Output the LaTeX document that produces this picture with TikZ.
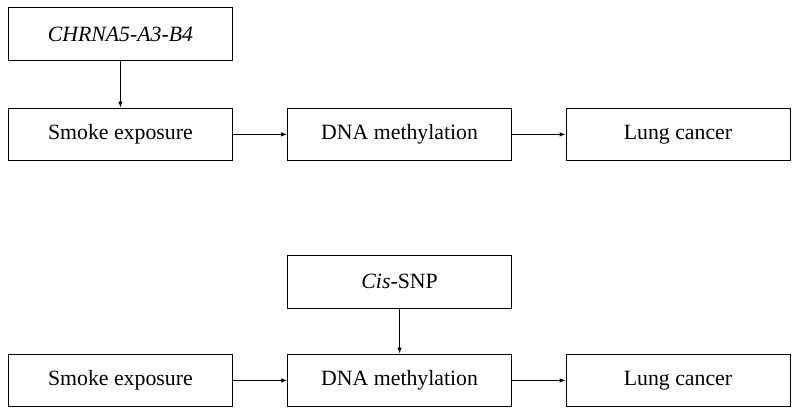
\documentclass[tikz,border=0pt]{standalone}
\usepackage{fontspec}
\setmainfont{Liberation Serif}
\usetikzlibrary{arrows.meta}
\tikzset{
    box/.style={draw, line width=0.6pt, minimum width=5.6cm, minimum height=1.32cm,
        inner sep=0pt, font=\fontsize{15.5}{18}\selectfont},
    link/.style={-{Latex[length=1.5mm, width=1.1mm]}, line width=0.6pt}
}

\begin{document}
\begin{tikzpicture}
    \useasboundingbox (0,0) rectangle (20,-10.425);

    % Upper panel
    \node[box] (gene) at (3.01,-0.85) {\textit{CHRNA5-A3-B4}};
    \node[box] (smokeA) at (3.01,-3.36) {Smoke exposure};
    \node[box] (methA) at (9.99,-3.36) {DNA methylation};
    \node[box] (cancerA) at (16.95,-3.36) {Lung cancer};

    \draw[link] (gene) -- (smokeA);
    \draw[link] (smokeA) -- (methA);
    \draw[link] (methA) -- (cancerA);

    % Lower panel
    \node[box] (snp) at (9.99,-7.04) {\textit{Cis}-SNP};
    \node[box] (smokeB) at (3.01,-9.51) {Smoke exposure};
    \node[box] (methB) at (9.99,-9.51) {DNA methylation};
    \node[box] (cancerB) at (16.95,-9.51) {Lung cancer};

    \draw[link] (snp) -- (methB);
    \draw[link] (smokeB) -- (methB);
    \draw[link] (methB) -- (cancerB);
\end{tikzpicture}
\end{document}
